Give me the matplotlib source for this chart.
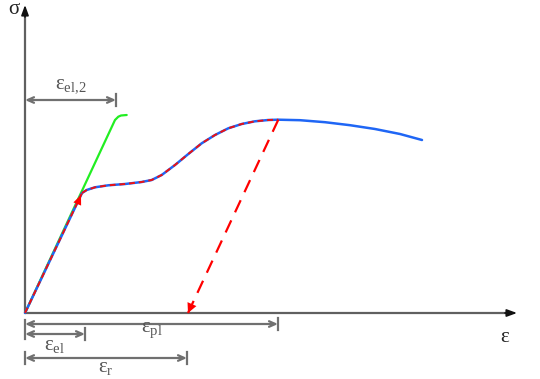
import matplotlib
matplotlib.use("Agg")
import matplotlib.pyplot as plt

plt.rcParams['mathtext.fontset'] = 'custom'
plt.rcParams['mathtext.rm'] = 'Liberation Serif'
plt.rcParams['font.family'] = ['Liberation Serif', 'DejaVu Serif']

# ---- data (strain, stress) in drawing units, origin at (0, 0) ----
curve_strain = [0, 57, 61.7, 70, 83.3, 100, 116.7, 126.7, 136.7, 150, 163.3, 176.7, 190, 203.3,
                216.7, 230, 243.3, 253.3, 275, 300, 325, 350, 375, 397]
curve_stress = [0, 120, 123, 125.7, 127.7, 129, 131, 133, 138, 148, 159, 169.7, 178, 184.7,
                189, 191.7, 193, 193.3, 192.8, 190.8, 187.8, 184, 179, 173]
peak_index = 17

green_strain = [0, 90, 93.3, 96, 101.7]
green_stress = [0, 193, 196.3, 197.5, 198]

unload_strain = [253.3, 163]
unload_stress = [193.3, 0]

yield_strain, yield_stress = 57, 120

# dimension lines: (label, start, end, level, label level)
dims = [
    (r'$\mathrm{ε}_{\mathrm{el{,}2}}$', 0, 91, 213, 226),
    (r'$\mathrm{ε}_{\mathrm{pl}}$', 0, 253, -11, -18),
    (r'$\mathrm{ε}_{\mathrm{el}}$', 0, 60, -21, -33),
    (r'$\mathrm{ε}_{\mathrm{r}}$', 0, 162, -45, -56),
]

fig = plt.figure(figsize=(5.4, 3.79), dpi=100)
ax = fig.add_axes([0, 0, 1, 1])
ax.set_xlim(-25, 515)
ax.set_ylim(-66, 313)
ax.axis('off')

axis_col = '#606060'
dim_col = '#707070'

# axes arrows
ax.plot([0, 0], [0, 300], color=axis_col, lw=1.6, solid_capstyle='butt')
ax.annotate('', xy=(0, 308), xytext=(0, 296),
            arrowprops=dict(arrowstyle='-|>,head_length=0.6,head_width=0.22', color='#111111', lw=1.2,
                            shrinkA=0, shrinkB=0))
ax.plot([0, 482], [0, 0], color=axis_col, lw=1.6, solid_capstyle='butt')
ax.annotate('', xy=(492, 0), xytext=(480, 0),
            arrowprops=dict(arrowstyle='-|>,head_length=0.6,head_width=0.22', color='#111111', lw=1.2,
                            shrinkA=0, shrinkB=0))
ax.text(-11, 303, 'σ', fontsize=15, ha='center', va='center', color='#222222')
ax.text(480, -24, 'ε', fontsize=15, ha='center', va='center', color='#222222')

# green curve
ax.plot(green_strain, green_stress, color='#22ee22', lw=1.6, solid_capstyle='round')

# blue curve
ax.plot(curve_strain, curve_stress, color='#1f66f5', lw=1.8, solid_capstyle='round')

# red dashed overlay up to peak
ax.plot(curve_strain[1:peak_index + 1], curve_stress[1:peak_index + 1], color='#ee1111', lw=1.4,
        dashes=(3, 2))
ax.plot([0, yield_strain], [0, yield_stress], color='#ee1111', lw=1.4, dashes=(3, 2))
ax.annotate('', xy=(yield_strain - 1, yield_stress - 2), xytext=(yield_strain - 6, yield_stress - 14),
            arrowprops=dict(arrowstyle='-|>,head_length=0.7,head_width=0.3', color='#ff0000', lw=0,
                            shrinkA=0, shrinkB=0))

# unloading dashed
ax.plot(unload_strain, unload_stress, color='#ff0000', lw=1.6, dashes=(6, 4))
ax.annotate('', xy=(unload_strain[1], unload_stress[1]), xytext=(unload_strain[1] + 4, unload_stress[1] + 9),
            arrowprops=dict(arrowstyle='-|>,head_length=0.7,head_width=0.35', color='#ff0000', lw=0,
                            shrinkA=0, shrinkB=0))

# dimension lines
for label, x0, x1, y, ty in dims:
    ax.annotate('', xy=(x1, y), xytext=(x0, y),
                arrowprops=dict(arrowstyle='<->,head_length=0.45,head_width=0.2', color=dim_col, lw=1.6,
                                shrinkA=0, shrinkB=0))
    ax.plot([x1, x1], [y - 6, y + 6], color=dim_col, lw=1.6)
    ax.text((x0 + x1) / 2, ty, label, fontsize=15, ha='center', va='center', color='#555555')

# left end bars
ax.plot([0, 0], [-7, -26], color=dim_col, lw=1.6)
ax.plot([0, 0], [-39, -51], color=dim_col, lw=1.6)

fig.savefig('out.png', dpi=100)
